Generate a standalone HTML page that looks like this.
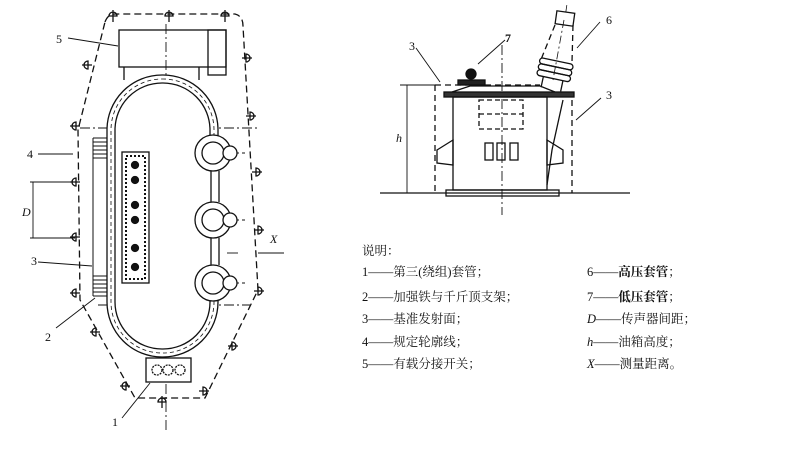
<!DOCTYPE html>
<html><head><meta charset="utf-8"><style>
body{margin:0;background:#fff;width:794px;height:449px;overflow:hidden}
svg{display:block}
text{font-family:"Liberation Serif","Noto Serif CJK SC",serif;fill:#111}
.cn{font-family:"Liberation Serif","Noto Sans CJK SC",sans-serif;font-size:12.5px}
</style></head><body>
<svg width="794" height="449" viewBox="0 0 794 449" xmlns="http://www.w3.org/2000/svg" stroke="#111" fill="none" stroke-width="1.3">
<!-- LEFT DRAWING -->
<path d="M105,22 Q108,14 115,14 L235,14 Q243,16 243,26 L258,290 L205,398 L135,398 L80,300 L78,130 Z" stroke-dasharray="7,4"/>
<g stroke-width="0.9" stroke-dasharray="10,3,2,3">
<line x1="166" y1="24" x2="166" y2="432"/>
<line x1="80" y1="128" x2="258" y2="128"/>
<line x1="98" y1="305" x2="250" y2="305"/>
<line x1="188" y1="153" x2="245" y2="153"/>
<line x1="188" y1="220" x2="245" y2="220"/>
<line x1="188" y1="283" x2="245" y2="283"/>
</g>
<rect x="119" y="30" width="107" height="37"/>
<rect x="208" y="30" width="18" height="45"/>
<line x1="124" y1="67" x2="124" y2="80"/><line x1="199" y1="67" x2="199" y2="80"/>
<rect x="107" y="75" width="111" height="282" rx="55" ry="55" fill="#fff"/>
<rect x="115" y="83" width="95" height="266" rx="47" ry="47"/>
<rect x="111" y="79" width="103" height="274" rx="51" ry="51" stroke-dasharray="4,3" stroke-width="0.8"/>
<g fill="#fff">
<rect x="208" y="160" width="14" height="110" stroke="none"/>
<circle cx="213" cy="153" r="18"/><circle cx="213" cy="220" r="18"/><circle cx="213" cy="283" r="18"/>
<circle cx="213" cy="153" r="11"/><circle cx="213" cy="220" r="11"/><circle cx="213" cy="283" r="11"/>
<circle cx="230" cy="153" r="7"/><circle cx="230" cy="220" r="7"/><circle cx="230" cy="283" r="7"/>
</g>
<line x1="211" y1="171" x2="211" y2="202"/><line x1="219" y1="171" x2="219" y2="202"/>
<line x1="211" y1="238" x2="211" y2="265"/><line x1="219" y1="238" x2="219" y2="265"/>
<rect x="122" y="152" width="27" height="131"/>
<rect x="126" y="156" width="19" height="123" stroke-dasharray="2,2" stroke-width="2"/>
<g fill="#111"><circle cx="135" cy="165" r="3.5"/><circle cx="135" cy="180" r="3.5"/><circle cx="135" cy="205" r="3.5"/><circle cx="135" cy="220" r="3.5"/><circle cx="135" cy="248" r="3.5"/><circle cx="135" cy="267" r="3.5"/></g>
<g stroke-width="1"><path d="M93,138h14M93,142h14M93,146h14M93,150h14M93,154h14M93,158h14M93,276h14M93,280h14M93,284h14M93,288h14M93,292h14M93,296h14"/>
<line x1="93" y1="138" x2="93" y2="296"/></g>
<rect x="146" y="358" width="45" height="24" fill="#fff"/>
<circle cx="157" cy="370" r="5" stroke-dasharray="2,1"/><circle cx="168" cy="370" r="5" stroke-dasharray="2,1"/><circle cx="180" cy="370" r="5" stroke-dasharray="2,1"/>
<!-- mics -->
<g stroke-width="1.3">
<path d="M109,16a4,4 0 0 1 8,0zM113,10v12M165,16a4,4 0 0 1 8,0zM169,10v12M221,16a4,4 0 0 1 8,0zM225,10v12"/>
<path d="M88,69a4,4 0 0 1 0,-8zM82,65h10M76,130a4,4 0 0 1 0,-8zM70,126h10M76,186a4,4 0 0 1 0,-8zM70,182h10M76,241a4,4 0 0 1 0,-8zM70,237h10M76,297a4,4 0 0 1 0,-8zM70,293h10"/>
<path d="M246,62a4,4 0 0 0 0-8zM242,58h10M250,120a4,4 0 0 0 0-8zM246,116h10M256,176a4,4 0 0 0 0-8zM252,172h10M258,234a4,4 0 0 0 0-8zM254,230h10M258,295a4,4 0 0 0 0-8zM254,291h10"/>
<path d="M96,336a4,4 0 0 1 0-8zM90,332h10M126,390a4,4 0 0 1 0-8zM120,386h10M158,402a4,4 0 0 1 8,0zM162,396v12M232,350a4,4 0 0 0 0-8zM228,346h10M203,395a4,4 0 0 0 0-8zM199,391h10"/>
</g>
<g stroke-width="0.9">
<line x1="68" y1="38" x2="118" y2="46"/>
<line x1="38" y1="154" x2="73" y2="154"/>
<line x1="38" y1="262" x2="92" y2="266"/>
<line x1="56" y1="328" x2="95" y2="298"/>
<line x1="122" y1="418" x2="150" y2="383"/>
<line x1="258" y1="253" x2="284" y2="253"/>
<line x1="227" y1="253" x2="238" y2="253"/>
<line x1="33" y1="182" x2="33" y2="238"/>
<line x1="30" y1="182" x2="75" y2="182"/><line x1="30" y1="238" x2="75" y2="238"/>
</g>
<g stroke="none" font-size="12">
<text x="56" y="43">5</text><text x="27" y="158">4</text><text x="22" y="216" font-style="italic">D</text>
<text x="31" y="265">3</text><text x="45" y="341">2</text><text x="112" y="426">1</text>
<text x="270" y="243" font-style="italic">X</text>
</g>
<!-- RIGHT DRAWING -->
<line x1="380" y1="193" x2="630" y2="193"/>
<g stroke-width="0.9">
<line x1="407" y1="85" x2="407" y2="193"/><line x1="400" y1="85" x2="440" y2="85"/>
<line x1="502" y1="45" x2="502" y2="215" stroke-dasharray="10,3,2,3"/>
</g>
<g stroke-dasharray="6,4"><line x1="435" y1="85" x2="435" y2="193"/><line x1="572" y1="100" x2="572" y2="193"/><line x1="435" y1="85" x2="540" y2="85"/>
<line x1="573" y1="25" x2="572" y2="62"/><line x1="555" y1="25" x2="540" y2="62"/>
<line x1="564" y1="20" x2="553" y2="80" stroke-dasharray="8,3,2,3" stroke-width="0.8"/></g>
<rect x="444" y="92" width="130" height="5" fill="#333"/>
<path d="M452,92 L470,86 L540,86 L555,92" />
<rect x="453" y="97" width="94" height="93"/>
<rect x="446" y="190" width="113" height="6"/>
<rect x="479" y="100" width="44" height="29" stroke-dasharray="5,3"/>
<line x1="479" y1="114" x2="523" y2="114" stroke-dasharray="5,3"/>
<rect x="485" y="143" width="8" height="17"/><rect x="497" y="143" width="8" height="17"/><rect x="510" y="143" width="8" height="17"/>
<path d="M437,150 L453,140 L453,165 L437,163 Z"/><path d="M547,140 L563,150 L563,163 L547,165 Z"/>
<path d="M563,100 L552,150 L547,185"/>
<rect x="458" y="80" width="27" height="5" fill="#222"/>
<circle cx="471" cy="74" r="5" fill="#111"/>
<!-- bushing 6 -->
<g transform="rotate(12 556 70)">
<rect x="538" y="61" width="34" height="6" rx="3"/><rect x="538" y="67" width="34" height="6" rx="3"/><rect x="538" y="73" width="34" height="6" rx="3"/>
<path d="M545,79 L545,90 M565,79 L565,90"/>
</g>
<g transform="rotate(8 565 18)"><rect x="556" y="12" width="18" height="13"/><line x1="565" y1="5" x2="565" y2="12" stroke-width="0.8"/></g>
<g stroke-width="0.9">
<line x1="416" y1="48" x2="440" y2="82"/><line x1="505" y1="40" x2="478" y2="64"/>
<line x1="600" y1="22" x2="577" y2="48"/><line x1="601" y1="98" x2="576" y2="120"/>
</g>
<g stroke="none" font-size="12">
<text x="409" y="50">3</text><text x="505" y="42" font-weight="bold">7</text><text x="606" y="24">6</text><text x="606" y="99">3</text>
<text x="396" y="142" font-style="italic">h</text>
</g>
<g stroke="none" class="cn">
<text x="362" y="255">说明：</text>
<text x="362" y="276">1——第三(绕组)套管；</text>
<text x="362" y="301">2——加强铁与千斤顶支架；</text>
<text x="362" y="323">3——基准发射面；</text>
<text x="362" y="346">4——规定轮廓线；</text>
<text x="362" y="368">5——有载分接开关；</text>
<text x="587" y="276">6——<tspan font-weight="bold">高压套管</tspan>；</text>
<text x="587" y="301">7——<tspan font-weight="bold">低压套管</tspan>；</text>
<text x="587" y="323"><tspan font-style="italic">D</tspan>——传声器间距；</text>
<text x="587" y="346"><tspan font-style="italic">h</tspan>——油箱高度；</text>
<text x="587" y="368"><tspan font-style="italic">X</tspan>——测量距离。</text>
</g>
</svg>
</body></html>
